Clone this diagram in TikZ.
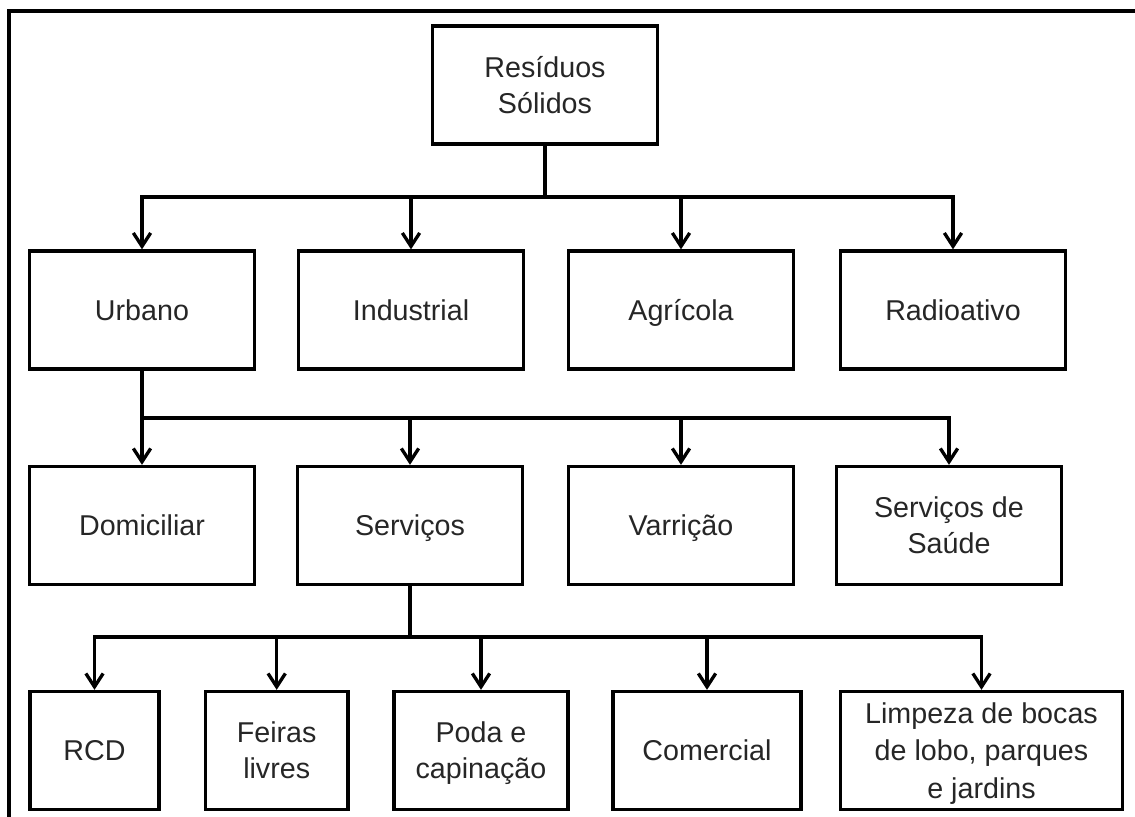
\documentclass[tikz,border=0pt]{standalone}
\usepackage{fontspec}
\setmainfont{Liberation Sans}
\usetikzlibrary{arrows.meta}

\begin{document}
\begin{tikzpicture}[x=0.75pt, y=-0.75pt,
    box/.style={draw, line width=2.5pt, align=center, inner sep=0pt,
      minimum width=168.75pt, minimum height=88.5pt, text depth=0pt,
      font=\fontsize{21.5}{27}\selectfont, text=black!85},
    single/.style={text height=15.4pt},
    conn/.style={line width=2.5pt},
    arr/.style={conn, -{Straight Barb[length=10pt,width=13pt]}}]

                \useasboundingbox (0,0) rectangle (1135,817);

                % frame
                \draw[line width=3pt] (8.5,817) -- (8.5,11.5) -- (1135,11.5);

                % top
                \node[box] (root) at (545,85) {Resíduos\\Sólidos};

                % second row
                \node[box, single] (urb) at (142,310) {Urbano};
                \node[box, single] (ind) at (411,310) {Industrial};
                \node[box, single] (agr) at (681,310) {Agrícola};
                \node[box, single] (rad) at (953,310) {Radioativo};

                % third row
                \node[box, single] (dom) at (142,525.5) {Domiciliar};
                \node[box, single] (serv) at (410,525.5) {Serviços};
                \node[box, single] (varr) at (681,525.5) {Varrição};
                \node[box] (saude) at (949,525.5) {Serviços de\\Saúde};

                % fourth row
                \node[box, single, minimum width=96.75pt] (rcd) at (94.5,750.5) {RCD};
                \node[box, minimum width=106.9pt] (feir) at (276.7,750.5) {Feiras\\livres};
                \node[box, minimum width=130.5pt] (poda) at (481,750.5) {Poda e\\capinação};
                \node[box, single, minimum width=141pt] (com) at (707,750.5) {Comercial};
                \node[box, minimum width=211.5pt, font=\fontsize{21.5}{28}\selectfont] (limp) at (981.5,750.5) {Limpeza de bocas\\de lobo, parques\\e jardins};

                \coordinate (b1) at (545,197);
                \coordinate (b2) at (142,418);
                \coordinate (b3) at (410,637);

                \draw[conn, line width=3pt] (root) -- (b1);
                \draw[arr] (b1) -| (urb);
                \draw[arr] (b1) -| (ind);
                \draw[arr] (b1) -| (agr);
                \draw[arr] (b1) -| (rad);

                \draw[conn] (urb) -- (b2);
                \draw[arr] (b2) -- (dom);
                \draw[arr] (b2) -| (serv);
                \draw[arr] (b2) -| (varr);
                \draw[arr] (b2) -| (saude);

                \draw[conn, line width=3pt] (serv) -- (b3);
                \draw[arr] (b3) -| (rcd);
                \draw[arr] (b3) -| (feir);
                \draw[arr] (b3) -| (poda);
                \draw[arr] (b3) -| (com);
                \draw[arr] (b3) -| (limp);

            \end{tikzpicture}
\end{document}
